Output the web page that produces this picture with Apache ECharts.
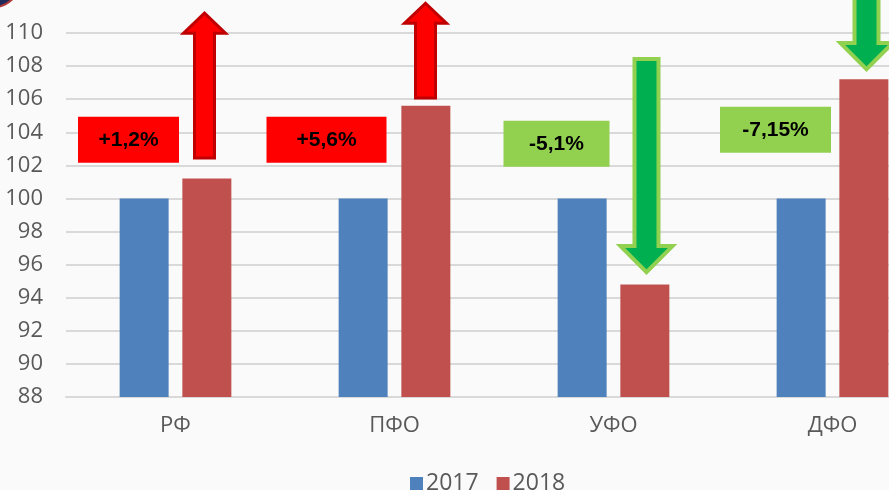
<!DOCTYPE html>
<html>
<head>
<meta charset="utf-8">
<script src="https://cdn.jsdelivr.net/npm/echarts@6/dist/echarts.min.js"></script>
<style>
  html, body { margin: 0; padding: 0; background: #fafafa; }
  #chart { width: 889px; height: 490px; }
</style>
</head>
<body>
<div id="chart"></div>
<script>
const categories = ['РФ', 'ПФО', 'УФО', 'ДФО'];
const values2017 = [100, 100, 100, 100];
const values2018 = [101.2, 105.6, 94.8, 107.2];
const changeLabels = ['+1,2%', '+5,6%', '-5,1%', '-7,15%'];
const changeUp = [true, true, false, false];

// where the callout boxes and arrows sit (value units on the y axis)
const boxPlace = [
  { dx: -47, value: 103.55, w: 101 },
  { dx: -68, value: 103.55, w: 120 },
  { dx: -57, value: 103.3, w: 106 },
  { dx: -57, value: 104.15, w: 111 }
];
const arrowPlace = [
  { from: 102.44, to: 111.2, dx: 29 },
  { from: 106.07, to: 111.8, dx: 31 },
  { from: 108.43, to: 95.55, dx: 33 },
  { from: 112.6, to: 107.82, dx: 34 }
];

const textColor = '#595959';
const gridColor = '#d9d9d9';

const chartDom = echarts.init(document.getElementById('chart'));
const option = {
  backgroundColor: '#fafafa',
  animation: false,
  grid: {
    top: 33,
    left: 66,
    width: 876,
    height: 364,
    outerBoundsMode: 'none',
    containLabel: false
  },
  legend: {
    data: [
      { name: '2017', icon: 'rect' },
      { name: '2018', icon: 'rect' }
    ],
    left: 405,
    top: 467,
    itemWidth: 13,
    itemHeight: 13,
    itemGap: 18,
    selectedMode: false,
    textStyle: {
      color: textColor,
      fontSize: 23,
      fontFamily: 'Open Sans',
      padding: [0, 0, 0, -2]
    }
  },
  xAxis: {
    type: 'category',
    data: categories,
    axisLine: {
      lineStyle: {
        color: gridColor,
        width: 2
      }
    },
    axisTick: { show: false },
    axisLabel: {
      color: textColor,
      fontSize: 22,
      fontFamily: 'Open Sans',
      margin: 18
    }
  },
  yAxis: {
    type: 'value',
    min: 88,
    max: 110,
    interval: 2,
    axisLine: { show: false },
    axisTick: { show: false },
    splitLine: {
      lineStyle: {
        color: gridColor,
        width: 2
      }
    },
    axisLabel: {
      color: textColor,
      fontSize: 22,
      fontFamily: 'Open Sans',
      margin: 23
    }
  },
  series: [{
    name: '2017',
    type: 'bar',
    data: values2017,
    barWidth: 49,
    barGap: '28%',
    itemStyle: { color: '#4f81bd' }
  }, {
    name: '2018',
    type: 'bar',
    data: values2018,
    barWidth: 49,
    itemStyle: { color: '#c0504d' }
  }]
};
chartDom.setOption(option);

function arrowPoints(x, yFrom, yTo, shaft, head, headLen) {
  const dir = yTo < yFrom ? -1 : 1;
  const base = yTo - dir * headLen;
  return [
    [x - shaft / 2, yFrom],
    [x - shaft / 2, base],
    [x - head / 2, base],
    [x, yTo],
    [x + head / 2, base],
    [x + shaft / 2, base],
    [x + shaft / 2, yFrom]
  ];
}

function buildGraphics() {
  const elements = [{
    type: 'circle',
    shape: { cx: -10, cy: -25, r: 33 },
    style: { fill: '#1f2a5a', stroke: '#b03a3a', lineWidth: 2 }
  }];
  for (let i = 0; i < categories.length; i++) {
    const cx = chartDom.convertToPixel({ xAxisIndex: 0 }, i);
    const box = boxPlace[i];
    const by = chartDom.convertToPixel({ yAxisIndex: 0 }, box.value);
    const up = changeUp[i];
    elements.push({
      type: 'rect',
      shape: { x: cx + box.dx - box.w / 2, y: by - 23, width: box.w, height: 46 },
      style: { fill: up ? '#ff0000' : '#92d050' },
      z: 10
    });
    elements.push({
      type: 'text',
      x: cx + box.dx,
      y: by,
      style: {
        text: changeLabels[i],
        fill: '#000',
        font: 'bold 21px "Liberation Sans", Arial',
        align: 'center',
        verticalAlign: 'middle'
      },
      z: 11
    });
    const ar = arrowPlace[i];
    const ax = cx + ar.dx;
    const y1 = chartDom.convertToPixel({ yAxisIndex: 0 }, ar.from);
    const y2 = chartDom.convertToPixel({ yAxisIndex: 0 }, ar.to);
    elements.push({
      type: 'polygon',
      shape: {
        points: up
          ? arrowPoints(ax, y1, y2, 20, 42, 20)
          : arrowPoints(ax, y1, y2, 24, 52, 26)
      },
      style: {
        fill: up ? '#ff0000' : '#00b050',
        stroke: up ? '#c00000' : '#92d050',
        lineWidth: up ? 3 : 4,
        lineJoin: 'miter'
      },
      z: 12
    });
  }
  chartDom.setOption({ graphic: { elements } });
}
buildGraphics();
</script>
</body>
</html>
